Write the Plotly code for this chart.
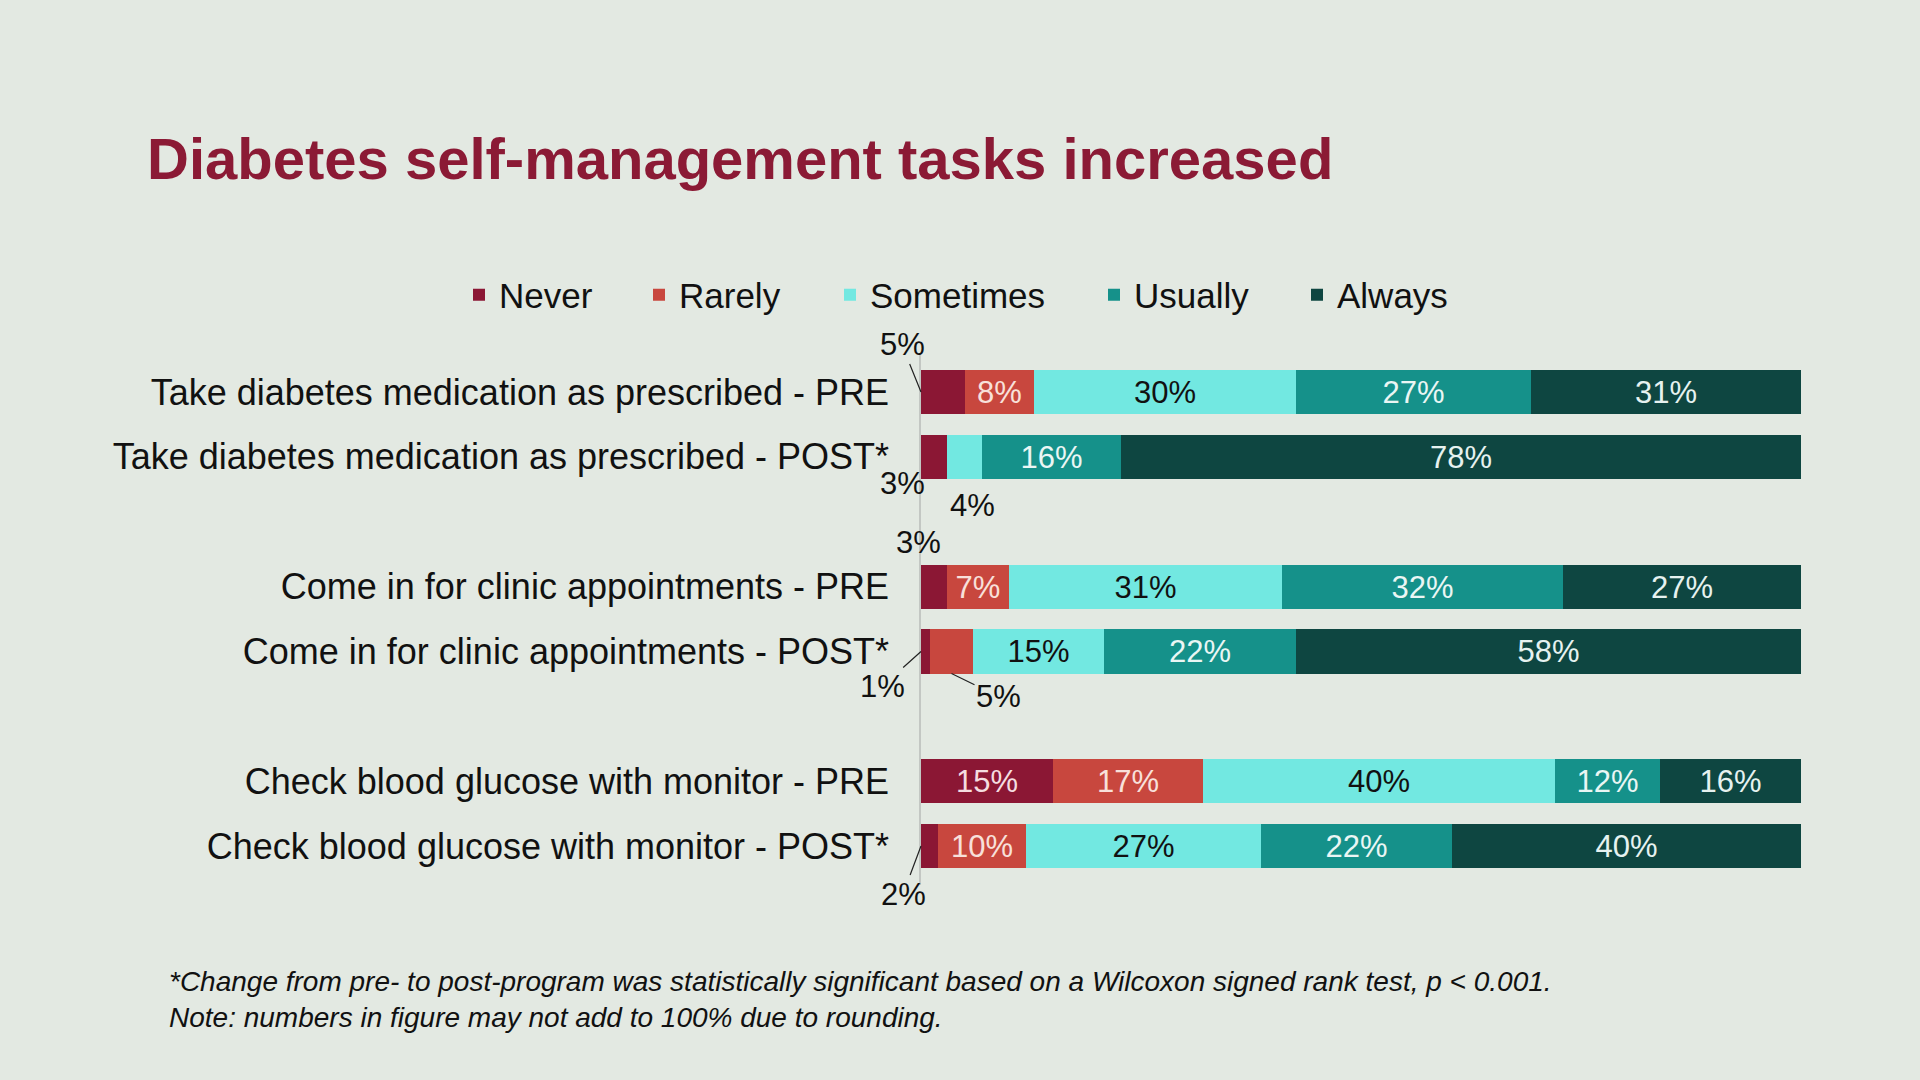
import plotly.graph_objects as go

# survey data (percent of respondents)
tasks = [
    "Take diabetes medication as prescribed - PRE",
    "Take diabetes medication as prescribed - POST*",
    "Come in for clinic appointments - PRE",
    "Come in for clinic appointments - POST*",
    "Check blood glucose with monitor - PRE",
    "Check blood glucose with monitor - POST*",
]
responses = ["Never", "Rarely", "Sometimes", "Usually", "Always"]
never = [5, 3, 3, 1, 15, 2]
rarely = [8, 0, 7, 5, 17, 10]
sometimes = [30, 4, 31, 15, 40, 27]
usually = [27, 16, 32, 22, 12, 22]
always = [31, 78, 27, 58, 16, 40]

series = [never, rarely, sometimes, usually, always]
colors = ["#8b1734", "#c8473e", "#72e8e1", "#15918a", "#0e4641"]
text_colors = ["#f5dde0", "#f8e0da", "#111111", "#eaf6f4", "#e6f2f0"]

FONT = "Liberation Sans, Arial, sans-serif"
BAR_W = 0.68
LABEL_SIZE = 31

# PRE/POST pairs with a blank slot between each task
ypos = [i + i // 2 for i in range(len(tasks))]

# one legend box per response so the spacing follows the slide (left edge, px)
legend_x = [459, 639, 830, 1094, 1297]

# small segments labelled outside the bar: (row, response, dx, dy, leader line, edge)
callouts = [
    (0, "Never", -19, -47, True, 0),
    (1, "Never", -19, 27, False, 0),
    (1, "Sometimes", 8, 49, False, 0),
    (2, "Never", -3, -44, False, 0),
    (3, "Never", -39, 35, True, 0),
    (3, "Rarely", 47, 23, True, 1),
    (5, "Never", -18, 48, True, 0),
]
outside = {(r, s) for r, s, *_ in callouts}

fig = go.Figure()
legend_layout = {}
for k, (name, vals) in enumerate(zip(responses, series)):
    labels = []
    for r, v in enumerate(vals):
        if v == 0 or (r, name) in outside:
            labels.append("")
        else:
            labels.append(f"{v}%")
    lg = "legend" if k == 0 else f"legend{k + 1}"
    legend_layout[lg] = dict(
        orientation="h", xref="container", x=legend_x[k] / 1920, xanchor="left",
        yref="container", y=1 - 295 / 1080, yanchor="middle",
        font=dict(family=FONT, size=35, color="#111111"),
        bgcolor="rgba(0,0,0,0)",
    )
    fig.add_trace(go.Bar(
        name=name, legend=lg, orientation="h", y=ypos, x=vals, width=BAR_W,
        marker=dict(color=colors[k], line=dict(width=0)),
        text=labels, textposition="inside", insidetextanchor="middle",
        textangle=0, constraintext="none",
        insidetextfont=dict(family=FONT, size=LABEL_SIZE, color=text_colors[k]),
        hovertemplate="%{x}%<extra>" + name + "</extra>",
    ))

# normalised segment positions for the callouts
totals = [sum(s[r] for s in series) for r in range(len(tasks))]
for r, name, dx, dy, line, edge in callouts:
    k = responses.index(name)
    start = sum(series[j][r] for j in range(k)) / totals[r] * 100
    width = series[k][r] / totals[r] * 100
    xt = start if k == 0 else start + width / 2
    yt = ypos[r] + edge * BAR_W / 2
    txt = f"{series[k][r]}%"
    if line:
        fig.add_annotation(x=xt, y=yt, text=txt, showarrow=True, ax=dx, ay=dy,
                           arrowhead=0, arrowwidth=1.2, arrowcolor="#222222",
                           standoff=0, font=dict(family=FONT, size=LABEL_SIZE, color="#111111"))
    else:
        fig.add_annotation(x=xt, y=yt, text=txt, showarrow=False,
                           xshift=dx, yshift=-dy,
                           font=dict(family=FONT, size=LABEL_SIZE, color="#111111"))

fig.add_annotation(
    xref="paper", yref="paper", x=-0.857, y=-0.148, xanchor="left", yanchor="top",
    align="left", showarrow=False,
    text="<i>*Change from pre- to post-program was statistically significant based on a "
         "Wilcoxon signed rank test, p &lt; 0.001.<br>"
         "Note: numbers in figure may not add to 100% due to rounding.</i>",
    font=dict(family=FONT, size=28, color="#111111"),
)

fig.update_layout(
    width=1920, height=1080,
    paper_bgcolor="#e3e9e2", plot_bgcolor="rgba(0,0,0,0)",
    margin=dict(l=921, r=119, t=353, b=195),
    barmode="stack", barnorm="percent", bargap=0,
    font=dict(family=FONT, color="#111111"),
    title=dict(text="Diabetes self-management tasks increased",
               xref="container", x=147 / 1920, xanchor="left",
               yref="container", y=1 - 159 / 1080, yanchor="middle",
               font=dict(family=FONT, size=58, color="#8b1a35", weight="bold")),
    showlegend=True,
    **legend_layout,
)
fig.update_xaxes(range=[0, 100], visible=False)
fig.update_yaxes(tickvals=ypos, ticktext=tasks, range=[7.6, -0.6],
                 showgrid=False, zeroline=False, showline=True,
                 linecolor="#c3c7c3", linewidth=1.5, layer="below traces",
                 ticks="", ticklabelstandoff=23,
                 tickfont=dict(family=FONT, size=36, color="#111111"))

fig.write_html("out.html", config={"displayModeBar": False},
               post_script="document.body.style.margin='0';")
